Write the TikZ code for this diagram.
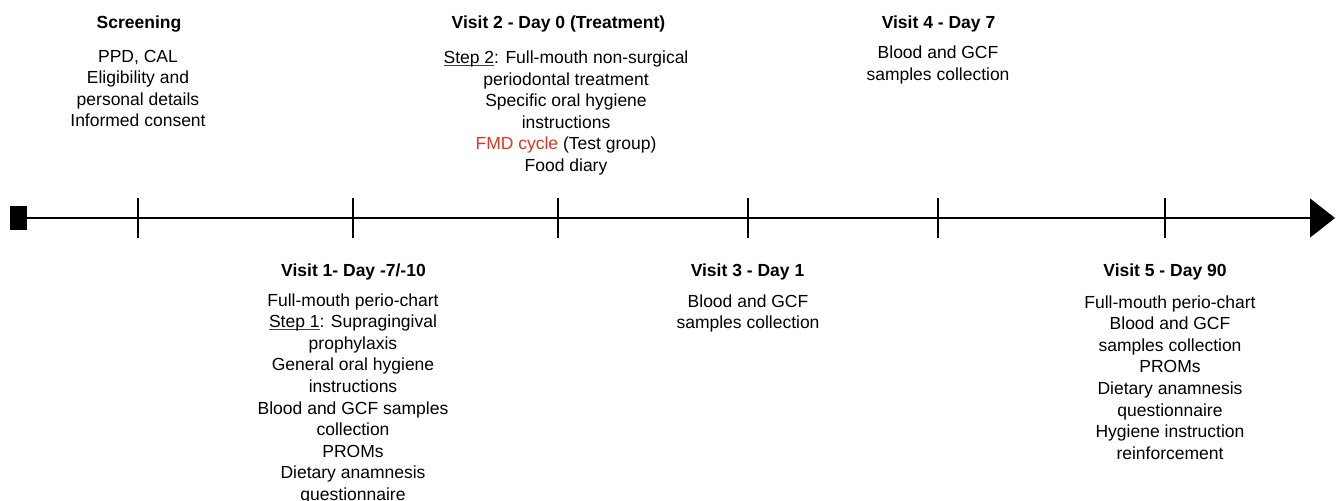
\documentclass[tikz,border=0pt]{standalone}
\usepackage{fontspec}
\setmainfont{Liberation Sans}
\usetikzlibrary{arrows.meta}
\definecolor{fmdred}{RGB}{224,52,36}
\newcommand\stepline[1]{\setbox0\hbox{#1}\rlap{\color{black!75}\rule[-1.3pt]{\wd0}{0.45pt}}#1}

\begin{document}
\begin{tikzpicture}[x=0.5pt,y=-0.5pt,
	every node/.style={inner sep=0pt,font=\fontsize{8.75}{10.8}\selectfont},
	visit/.style={anchor=base,font=\fontsize{8.75}{10.8}\selectfont\bfseries},
	tasks/.style={anchor=north,align=center}]
	\useasboundingbox (0,0) rectangle (1337,500);
	% timeline
	\node[fill,minimum width=8.5pt,minimum height=12pt] (start) at (18.5,218) {};
	\coordinate (end) at (1335,218);
	\draw[line width=0.6pt,-{Triangle[length=12.5pt,width=19.5pt]}] (start) -- (end);
	\foreach \x in {138,353,558,748,938,1165}
		\draw[line width=0.6pt] (\x,198) -- (\x,238);
	% above the line
	\node[visit] (screening) at (139,28) {Screening};
	\node[tasks] (screening-tasks) at (138,49.5) {PPD, CAL\\Eligibility and\\personal details\\Informed consent};
	\node[visit] (visit2) at (558.5,28) {Visit 2 - Day 0 (Treatment)};
	\node[tasks] (visit2-tasks) at (566,50.5) {\stepline{Step 2}: Full-mouth non-surgical\\periodontal treatment\\Specific oral hygiene\\instructions\\\textcolor{fmdred}{FMD cycle} (Test group)\\Food diary};
	\node[visit] (visit4) at (938.5,28) {Visit 4 - Day 7};
	\node[tasks] (visit4-tasks) at (938,45.5) {Blood and GCF\\samples collection};
	% below the line
	\node[visit] (visit1) at (353.5,276) {Visit 1- Day -7/-10};
	\node[tasks] (visit1-tasks) at (353,293) {Full-mouth perio-chart\\\stepline{Step 1}: Supragingival\\prophylaxis\\General oral hygiene\\instructions\\Blood and GCF samples\\collection\\PROMs\\Dietary anamnesis\\questionnaire};
	\node[visit] (visit3) at (747.5,276) {Visit 3 - Day 1};
	\node[tasks] (visit3-tasks) at (748,294) {Blood and GCF\\samples collection};
	\node[visit] (visit5) at (1165,276) {Visit 5 - Day 90};
	\node[tasks] (visit5-tasks) at (1170,295) {Full-mouth perio-chart\\Blood and GCF\\samples collection\\PROMs\\Dietary anamnesis\\questionnaire\\Hygiene instruction\\reinforcement};
\end{tikzpicture}
\end{document}
